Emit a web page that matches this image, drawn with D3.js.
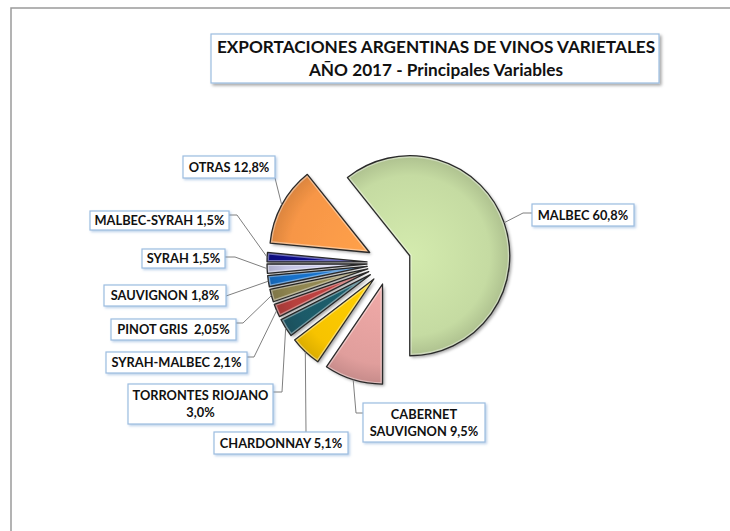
<!DOCTYPE html>
<html>
<head>
<meta charset="utf-8">
<script src="https://cdn.jsdelivr.net/npm/d3@7"></script>
<style>
  body { margin: 0; background: #fff; }
  svg { display: block; font-family: Lato, "Open Sans", sans-serif; }
</style>
</head>
<body>
<svg id="chart" width="730" height="531"></svg>
<script>
// data
var categories = ["MALBEC", "CABERNET SAUVIGNON", "CHARDONNAY", "TORRONTES RIOJANO", "SYRAH-MALBEC",
                  "PINOT GRIS", "SAUVIGNON", "SYRAH", "MALBEC-SYRAH", "OTRAS"];
var values = [60.8, 9.5, 5.1, 3.0, 2.1, 2.05, 1.8, 1.5, 1.5, 12.8];
var labelLines = [["MALBEC 60,8%"], ["CABERNET", "SAUVIGNON 9,5%"], ["CHARDONNAY 5,1%"],
                  ["TORRONTES RIOJANO", "3,0%"], ["SYRAH-MALBEC 2,1%"], ["PINOT GRIS  2,05%"],
                  ["SAUVIGNON 1,8%"], ["SYRAH 1,5%"], ["MALBEC-SYRAH 1,5%"], ["OTRAS 12,8%"]];
var titleLines = ["EXPORTACIONES ARGENTINAS DE VINOS VARIETALES", "AÑO 2017 - Principales Variables"];

var colors = ["#c5dba2", "#e09e9c", "#f7c300", "#1e5a68", "#b8403e",
              "#8f8550", "#1570c8", "#c4c4e4", "#08088a", "#f79646"];

// label boxes and leader elbows (layout only)
var labelLayout = [
    { x: 532, y: 204, w: 102, h: 22, via: [[523, 213], [532, 213]] },
    { x: 363, y: 403, w: 122, h: 39, via: [[356, 413], [363, 413]] },
    { x: 214, y: 432, w: 134, h: 22, via: [[306, 432]] },
    { x: 128, y: 384, w: 145, h: 40, via: [[282, 392], [273, 392]] },
    { x: 106, y: 352, w: 141, h: 21, via: [[254, 357], [247, 357]] },
    { x: 111, y: 319, w: 125, h: 21, via: [[243, 323], [236, 323]] },
    { x: 104, y: 285, w: 122, h: 21, via: [[226, 296]] },
    { x: 142, y: 249, w: 83, h: 19, via: [[235, 257], [225, 257]] },
    { x: 90, y: 211, w: 139, h: 19, via: [[237, 215], [229, 215]] },
    { x: 183, y: 156, w: 92, h: 22, via: [[275, 178]] }
];

var svg = d3.select("#chart");
var defs = svg.append("defs");

// soft shadows
var sh = defs.append("filter").attr("id", "shadow").attr("x", "-20%").attr("y", "-20%")
    .attr("width", "150%").attr("height", "150%");
sh.append("feDropShadow").attr("dx", 2).attr("dy", 2).attr("stdDeviation", 1.6)
    .attr("flood-color", "#000").attr("flood-opacity", 0.35);

var glow = defs.append("filter").attr("id", "glow").attr("x", "-10%").attr("y", "-30%")
    .attr("width", "125%").attr("height", "170%");
glow.append("feDropShadow").attr("dx", 1.5).attr("dy", 1.5).attr("stdDeviation", 1.2)
    .attr("flood-color", "#6f9bd0").attr("flood-opacity", 0.45);

// frame of the chart area
svg.append("path")
    .attr("d", "M11,531 L11,8 L730,8")
    .attr("fill", "none").attr("stroke", "#9a9a9a").attr("stroke-width", 1.5);

// title
var title = svg.append("g");
title.append("rect")
    .attr("x", 211).attr("y", 34).attr("width", 448).attr("height", 49)
    .attr("fill", "#fff").attr("stroke", "#9cbde0").attr("stroke-width", 1.2)
    .attr("filter", "url(#shadow)");
title.selectAll("text")
    .data(titleLines)
    .enter().append("text")
    .attr("x", 436)
    .attr("y", function (d, i) { return 53 + i * 23; })
    .attr("text-anchor", "middle")
    .attr("font-size", 17.2)
    .attr("font-weight", "bold")
    .attr("fill", "#111")
    .text(function (d) { return d; });

// pie
var cx = 389, cy = 263, radius = 100, explode = 22;
var a0 = -38.55 * Math.PI / 180;

var pie = d3.pie().sort(null).value(function (d) { return d; })
    .startAngle(a0).endAngle(a0 + 2 * Math.PI);
var arcs = pie(values);
var arc = d3.arc().innerRadius(0).outerRadius(radius);

function midAngle(d) { return (d.startAngle + d.endAngle) / 2; }
function offset(d, r) {
    var a = midAngle(d);
    return [Math.sin(a) * r, -Math.cos(a) * r];
}

arcs.forEach(function (d, i) {
    var c = d3.color(colors[i]);
    var g = defs.append("radialGradient").attr("id", "grad" + i)
        .attr("gradientUnits", "userSpaceOnUse")
        .attr("cx", 0).attr("cy", 0).attr("r", radius);
    g.append("stop").attr("offset", "0%").attr("stop-color", c.brighter(0.2));
    g.append("stop").attr("offset", "80%").attr("stop-color", c);
    g.append("stop").attr("offset", "100%").attr("stop-color", c.darker(0.35));
    defs.append("clipPath").attr("id", "clip" + i)
        .append("path").attr("d", arc(d));
});

var pieG = svg.append("g").attr("transform", "translate(" + cx + "," + cy + ")");

var slice = pieG.selectAll("g.slice")
    .data(arcs)
    .enter().append("g")
    .attr("class", "slice")
    .attr("transform", function (d) { return "translate(" + offset(d, explode) + ")"; });

slice.append("path")
    .attr("d", arc)
    .attr("fill", function (d, i) { return "url(#grad" + i + ")"; })
    .attr("filter", "url(#shadow)");

// bevel highlight inside the edges
slice.append("path")
    .attr("d", arc)
    .attr("clip-path", function (d, i) { return "url(#clip" + i + ")"; })
    .attr("fill", "none")
    .attr("stroke", "#fff")
    .attr("stroke-opacity", 0.4)
    .attr("stroke-width", 4);

slice.append("path")
    .attr("d", arc)
    .attr("fill", "none")
    .attr("stroke", "#2a2a2a")
    .attr("stroke-width", 1.3)
    .attr("stroke-linejoin", "round");

// leader lines
svg.append("g").selectAll("polyline")
    .data(arcs)
    .enter().append("polyline")
    .attr("points", function (d, i) {
        var o = offset(d, explode + radius);
        var pts = [[cx + o[0], cy + o[1]]].concat(labelLayout[i].via);
        return pts.map(function (p) { return p.join(","); }).join(" ");
    })
    .attr("fill", "none")
    .attr("stroke", "#7f7f7f")
    .attr("stroke-width", 1);

// labels
var label = svg.append("g").selectAll("g")
    .data(categories)
    .enter().append("g");

label.append("rect")
    .attr("x", function (d, i) { return labelLayout[i].x; })
    .attr("y", function (d, i) { return labelLayout[i].y; })
    .attr("width", function (d, i) { return labelLayout[i].w; })
    .attr("height", function (d, i) { return labelLayout[i].h; })
    .attr("fill", "#fff")
    .attr("stroke", "#9cbde0")
    .attr("stroke-width", 1.2)
    .attr("filter", "url(#glow)");

label.each(function (d, i) {
    var L = labelLayout[i], lines = labelLines[i];
    var mid = L.y + L.h / 2, step = 17;
    d3.select(this).selectAll("text")
        .data(lines)
        .enter().append("text")
        .attr("x", L.x + L.w / 2)
        .attr("y", function (t, j) { return mid + (j - (lines.length - 1) / 2) * step; })
        .attr("dy", "0.36em")
        .attr("text-anchor", "middle")
        .attr("font-size", 12.8)
        .attr("font-weight", "bold")
        .attr("fill", "#111")
        .style("white-space", "pre")
        .text(function (t) { return t; });
});
</script>
</body>
</html>
